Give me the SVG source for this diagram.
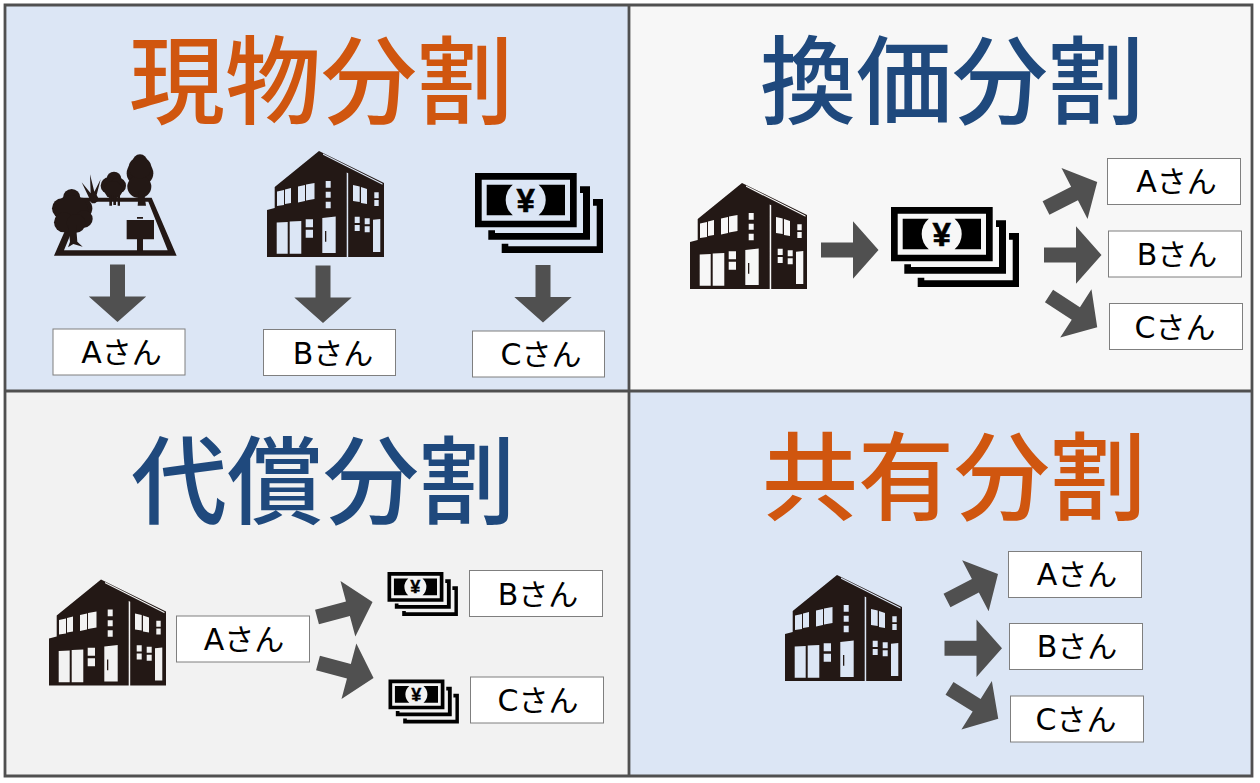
<svg xmlns="http://www.w3.org/2000/svg" width="1260" height="783" viewBox="0 0 1260 783">
<style>
.title{font-family:"Noto Sans CJK JP","Noto Sans",sans-serif;font-size:96px;font-weight:500;text-anchor:middle}
.o{fill:#d0560f}.b{fill:#1f497d}
.box{fill:#fff;stroke:#7f7f7f;stroke-width:1}
.lbl{font-family:"DejaVu Sans","Noto Sans CJK JP",sans-serif;font-size:30px;fill:#000;text-anchor:middle}
.arr{fill:#505050}
.k{fill:#231815}
.yen{font-family:"Liberation Sans",sans-serif;font-weight:bold;font-size:33px;text-anchor:middle;fill:#000;stroke:#000;stroke-width:.6}
</style>
<defs>
<path id="arrow" d="M0-7.5H32V-28.7L57.5 0 32 28.7V7.5H0Z"/>
<path id="house" fill-rule="evenodd" d="M0 59L7.7 57V36L52 0 117 32V106H0Z
M56 2.500L115.500 32.500V33.800L56 3.800Z M79.700 21.500L81.200 22.300V106H79.700Z
M10 40.500L17 39V54L10 55Z M18 38.500L24 37V52L18 53Z M31 35.500L38 34V50L31 51.500Z M39 33.500L47.500 32V48L39 49.500Z
M58.700 30H63.700V36.700H58.700Z M58.700 40.700H63.700V46.700H58.700Z M58.700 50.700H63.700V57.300H58.700Z
M86 34L92.700 35.500V51L86 50Z M94 36L100 38V53L94 52Z M107.300 41.300H111.700V47.300H107.300Z M107.300 49H111.700V55H107.300Z
M87.700 65.700H92.700V72H87.700Z M87.700 74H92.700V80H87.700Z M97.700 67.300H102.700V73.300H97.700Z M97.700 75.300H102.700V81.300H97.700Z
M106 68.700L113.300 68V101H106Z M9.700 71.500L20.700 71V102.700H9.700Z M22.700 70.500L34.300 70V102.700H22.700Z
M38.700 68.300H46V76.300H38.700Z M38.700 78.700H46V86.700H38.700Z M55.300 67L68.700 65.500V102H55.300Z M58 80H59.300V90.700H58Z"/>
<g id="bill">
<path fill-rule="evenodd" d="M0 0H101.700V54.300H0Z M6.700 6.700H95V47.700H6.700Z M11.700 11.700H90V42.300H11.700Z M37.800 11.700A20 20 0 0 0 37.800 42.300H63.600A20 20 0 0 0 63.600 11.700Z"/>
<text class="yen" x="50.700" y="38.500">¥</text>
<path d="M105 13.300H115V66.700H13.300V57.300H20V60H108V20H105Z M118 26H128V80H26.700V70.700H33.300V73.300H121.700V32.700H118Z"/>
</g>
</defs>
<g id="panels">
<rect x="5" y="5" width="624" height="386" fill="#dce6f5"/>
<rect x="629" y="5" width="623" height="386" fill="#f7f7f7"/>
<rect x="5" y="391" width="624" height="385" fill="#f2f2f2"/>
<rect x="629" y="391" width="623" height="385" fill="#dce6f5"/>
<path d="M5 5H1252V776H5Z M629 5V776 M5 391H1252" fill="none" stroke="#505050" stroke-width="2.800"/>
</g>
<g id="titles">
<text class="title o" x="321" y="116">現物分割</text>
<text class="title b" x="952" y="116">換価分割</text>
<text class="title b" x="323" y="516">代償分割</text>
<text class="title o" x="954" y="512">共有分割</text>
</g>
<g id="land" transform="translate(40 145) scale(.3333)" class="k">
<path fill-rule="evenodd" d="M42 332L118 158H335L410 332Z M72 316H383L325 170H132Z"/>
<circle cx="95" cy="158" r="26"/><circle cx="66" cy="190" r="30"/><circle cx="125" cy="190" r="32"/><circle cx="95" cy="200" r="50"/><circle cx="132" cy="222" r="26"/><circle cx="72" cy="232" r="30"/><circle cx="108" cy="235" r="28"/>
<path d="M85 240H108L112 290 128 305 100 297 84 307 90 290Z"/>
<circle cx="222" cy="102" r="22"/><circle cx="207" cy="122" r="25"/><circle cx="234" cy="122" r="24"/><circle cx="220" cy="135" r="27"/>
<path d="M208 150H216V182H208Z M220 150H228V180H220Z M233 150H240V182H233Z"/>
<circle cx="300" cy="50" r="22"/><ellipse cx="300" cy="85" rx="40" ry="38"/><ellipse cx="298" cy="125" rx="36" ry="34"/><ellipse cx="300" cy="68" rx="34" ry="32"/>
<path d="M296 140H312L318 182H293Z"/>
<path d="M155 175L125 112 152 145 150 88 163 140 182 103 170 150 178 165 165 175Z"/>
<path d="M260 225H342V283H260Z M291 283H309V320H291Z M291 216H309V221H291Z"/>
</g>
<use id="house1" href="#house" x="267" y="151" class="k"/>
<g id="bill1" transform="translate(475 173)"><use href="#bill"/></g>
<g id="box-a1"><rect class="box" x="53" y="329" width="132" height="46"/><text class="lbl" x="121.500" y="363">Aさん</text></g>
<g id="box-b1"><rect class="box" x="263.500" y="329.500" width="132" height="46"/><text class="lbl" x="333" y="364">Bさん</text></g>
<g id="box-c1"><rect class="box" x="472.500" y="331" width="132" height="46"/><text class="lbl" x="541" y="365">Cさん</text></g>
<use id="house2" href="#house" x="690" y="183" class="k"/>
<g id="bill2" transform="translate(891 207)"><use href="#bill"/></g>
<g id="box-a2"><rect class="box" x="1107.500" y="158.500" width="133" height="46"/><text class="lbl" x="1176.500" y="192">Aさん</text></g>
<g id="box-b2"><rect class="box" x="1108.500" y="231" width="133" height="46"/><text class="lbl" x="1177" y="265">Bさん</text></g>
<g id="box-c2"><rect class="box" x="1109.500" y="303.500" width="133" height="46"/><text class="lbl" x="1175" y="338">Cさん</text></g>
<use id="house3" href="#house" x="49" y="579.500" class="k"/>
<g id="bill3a" transform="translate(387.500 572) scale(.55)"><use href="#bill"/></g>
<g id="bill3b" transform="translate(388.500 679.500) scale(.55)"><use href="#bill"/></g>
<g id="box-a3"><rect class="box" x="176.500" y="616" width="133" height="46"/><text class="lbl" x="244" y="650">Aさん</text></g>
<g id="box-b3"><rect class="box" x="469.500" y="570.500" width="133" height="46"/><text class="lbl" x="538" y="605">Bさん</text></g>
<g id="box-c3"><rect class="box" x="470.500" y="677" width="133" height="46"/><text class="lbl" x="538" y="711">Cさん</text></g>
<use id="house4" href="#house" x="785" y="575" class="k"/>
<g id="box-a4"><rect class="box" x="1008.500" y="551.500" width="133" height="46"/><text class="lbl" x="1077" y="585">Aさん</text></g>
<g id="box-b4"><rect class="box" x="1009.500" y="623.500" width="133" height="46"/><text class="lbl" x="1077" y="657">Bさん</text></g>
<g id="box-c4"><rect class="box" x="1010.500" y="696" width="133" height="46"/><text class="lbl" x="1076" y="730">Cさん</text></g>
<g id="connectors" class="arr">
<use href="#arrow" transform="translate(117.500 264.500) rotate(90)"/>
<use href="#arrow" transform="translate(323 265.500) rotate(90)"/>
<use href="#arrow" transform="translate(543 265) rotate(90)"/>
<use href="#arrow" transform="translate(821 250)"/>
<use href="#arrow" transform="translate(1046 208) rotate(-27)"/>
<use href="#arrow" transform="translate(1044 255)"/>
<use href="#arrow" transform="translate(1049 296) rotate(33)"/>
<use href="#arrow" transform="translate(317 617) rotate(-15)"/>
<use href="#arrow" transform="translate(318 663) rotate(15)"/>
<use href="#arrow" transform="translate(947 600.500) rotate(-27.500)"/>
<use href="#arrow" transform="translate(944.500 648.300)"/>
<use href="#arrow" transform="translate(949.500 688.300) rotate(32)"/>
</g>
</svg>
